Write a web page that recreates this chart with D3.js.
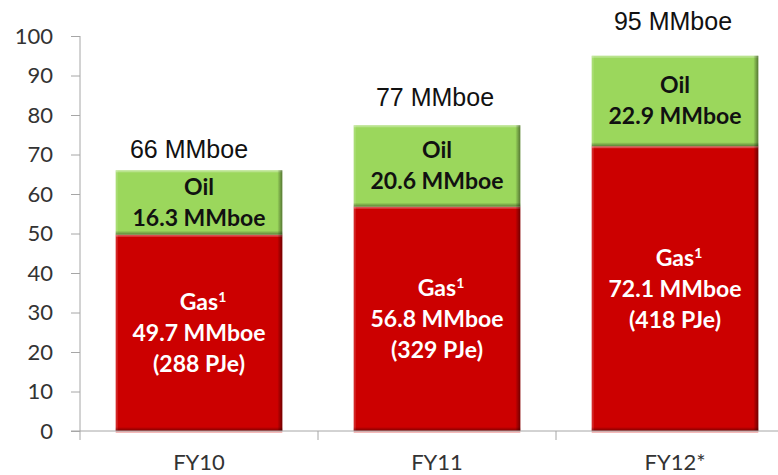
<!DOCTYPE html>
<html>
<head>
<meta charset="utf-8">
<script src="https://cdn.jsdelivr.net/npm/d3@7/dist/d3.min.js"></script>
<style>
  html, body { margin: 0; padding: 0; background: #fff; }
  svg { display: block; }
</style>
</head>
<body>
<svg id="chart" width="778" height="475"></svg>
<script>
// Production by financial year, MMboe
const years = ["FY10", "FY11", "FY12*"];
const gasValues = [49.7, 56.8, 72.1];
const oilValues = [16.3, 20.6, 22.9];
const gasPJe = [288, 329, 418];
const totals = [66, 77, 95];
const yTicks = [0, 10, 20, 30, 40, 50, 60, 70, 80, 90, 100];

// Total-label placement above each bar: [dx, lift in px]
const totalLabelNudge = [[-10, 12], [-2, 21], [-2, 26]];

const W = 778, H = 475;
const svg = d3.select("#chart");

const baseY = 431;
const y = d3.scaleLinear().domain([0, 100]).range([baseY, 36]);
const x = d3.scaleBand().domain(years).range([80, 794])
  .paddingInner(0.3).paddingOuter(0.15);

const gasColor = "#cc0000";
const oilColor = "#9bd75c";

// Gradients for the bevelled bar edges
const defs = svg.append("defs");
function edgeGrad(id, x2, y2, col, a) {
  const g = defs.append("linearGradient").attr("id", id)
    .attr("x1", 0).attr("y1", 0).attr("x2", x2).attr("y2", y2);
  g.append("stop").attr("offset", "0%").attr("stop-color", col).attr("stop-opacity", 0);
  g.append("stop").attr("offset", "100%").attr("stop-color", col).attr("stop-opacity", a);
}
edgeGrad("rightEdge", 1, 0, "#000", 0.45);
edgeGrad("bottomEdge", 0, 1, "#000", 0.4);

const rows = years.map((yr, i) => ({
  yr, gas: gasValues[i], oil: oilValues[i], pje: gasPJe[i], total: totals[i], i
}));

// Y axis
const axisColor = "#a6a6a6";
svg.append("g").attr("transform", "translate(80,0)")
  .call(d3.axisLeft(y).tickValues(yTicks).tickSize(9).tickPadding(18).tickSizeOuter(0))
  .call(g => g.select(".domain").remove())
  .call(g => g.selectAll(".tick line").attr("stroke", axisColor))
  .call(g => g.selectAll(".tick text")
    .attr("fill", "#333").attr("font-family", "Lato, sans-serif").attr("font-size", 22));
svg.append("line").attr("x1", 80).attr("x2", 80).attr("y1", y(100)).attr("y2", baseY + 9)
  .attr("stroke", axisColor);

// Bars: gas at the bottom, oil stacked on top
const segs = [];
rows.forEach(d => {
  segs.push({ d, kind: "gas", y0: 0, y1: d.gas, color: gasColor });
  segs.push({ d, kind: "oil", y0: d.gas, y1: d.gas + d.oil, color: oilColor });
});

const barG = svg.append("g");
const segG = barG.selectAll("g.seg").data(segs).join("g").attr("class", "seg");
segG.append("rect")
  .attr("x", s => x(s.d.yr)).attr("width", x.bandwidth())
  .attr("y", s => y(s.y1)).attr("height", s => y(s.y0) - y(s.y1))
  .attr("fill", s => s.color);
// highlight along the top and left edges
segG.append("rect")
  .attr("x", s => x(s.d.yr)).attr("width", x.bandwidth())
  .attr("y", s => y(s.y1)).attr("height", 2)
  .attr("fill", "#fff").attr("opacity", 0.3);
segG.append("rect")
  .attr("x", s => x(s.d.yr)).attr("width", 2)
  .attr("y", s => y(s.y1)).attr("height", s => y(s.y0) - y(s.y1))
  .attr("fill", "#fff").attr("opacity", 0.15);
// shading along the right and bottom edges
segG.append("rect")
  .attr("x", s => x(s.d.yr) + x.bandwidth() - 5).attr("width", 5)
  .attr("y", s => y(s.y1)).attr("height", s => y(s.y0) - y(s.y1))
  .attr("fill", "url(#rightEdge)");
segG.append("rect")
  .attr("x", s => x(s.d.yr)).attr("width", x.bandwidth())
  .attr("y", s => y(s.y0) - 4).attr("height", 4)
  .attr("fill", "url(#bottomEdge)");
// faint reflection under each bar
barG.selectAll("rect.refl").data(rows).join("rect").attr("class", "refl")
  .attr("x", d => x(d.yr)).attr("width", x.bandwidth())
  .attr("y", baseY).attr("height", 2).attr("fill", "#e88").attr("opacity", 0.6);

// X axis
svg.append("line").attr("x1", 71).attr("x2", W).attr("y1", baseY).attr("y2", baseY)
  .attr("stroke", axisColor);
const boundaries = d3.range(1, years.length).map(i => x.range()[0] + i * x.step());
svg.selectAll("line.xtick").data(boundaries).join("line").attr("class", "xtick")
  .attr("x1", b => b).attr("x2", b => b).attr("y1", baseY).attr("y2", baseY + 9)
  .attr("stroke", axisColor);
svg.append("g").attr("transform", `translate(0,${baseY})`)
  .call(d3.axisBottom(x).tickSize(0))
  .call(g => g.select(".domain").remove())
  .call(g => g.selectAll(".tick text")
    .attr("dy", null).attr("y", 39)
    .attr("fill", "#333").attr("font-family", "Lato, sans-serif").attr("font-size", 22));

// Labels inside segments, centred vertically in each segment
const lineGap = 31, capH = 16;
function firstBaseline(center, n) {
  return center - ((n - 1) * lineGap - capH) / 2;
}

const labelFont = "Lato, sans-serif";
rows.forEach(d => {
  const cx = x(d.yr) + x.bandwidth() / 2;
  // oil
  const oc = (y(d.gas) + y(d.gas + d.oil)) / 2;
  const ob = firstBaseline(oc, 2);
  const ot = svg.append("text").attr("text-anchor", "middle")
    .attr("font-family", labelFont).attr("font-weight", 700).attr("font-size", 23)
    .attr("fill", "#111");
  ot.append("tspan").attr("x", cx).attr("y", ob).text("Oil");
  ot.append("tspan").attr("x", cx).attr("y", ob + lineGap).text(`${d.oil.toFixed(1)} MMboe`);
  // gas
  const gc = (y(0) + y(d.gas)) / 2;
  const gb = firstBaseline(gc, 3);
  const gt = svg.append("text").attr("text-anchor", "middle")
    .attr("font-family", labelFont).attr("font-weight", 700).attr("font-size", 23)
    .attr("fill", "#fff");
  const l1 = gt.append("tspan").attr("x", cx + 4).attr("y", gb);
  l1.append("tspan").text("Gas");
  l1.append("tspan").attr("font-size", 14).attr("dy", -8).text("1");
  gt.append("tspan").attr("x", cx).attr("y", gb + lineGap).text(`${d.gas.toFixed(1)} MMboe`);
  gt.append("tspan").attr("x", cx).attr("y", gb + 2 * lineGap).text(`(${d.pje} PJe)`);
  // total above bar
  const [dx, lift] = totalLabelNudge[d.i];
  svg.append("text").attr("text-anchor", "middle")
    .attr("x", cx + dx).attr("y", y(d.total) - lift)
    .attr("font-family", "'Liberation Sans', Arial, sans-serif").attr("font-size", 25)
    .attr("fill", "#111").text(`${d.total} MMboe`);
});
</script>
</body>
</html>
